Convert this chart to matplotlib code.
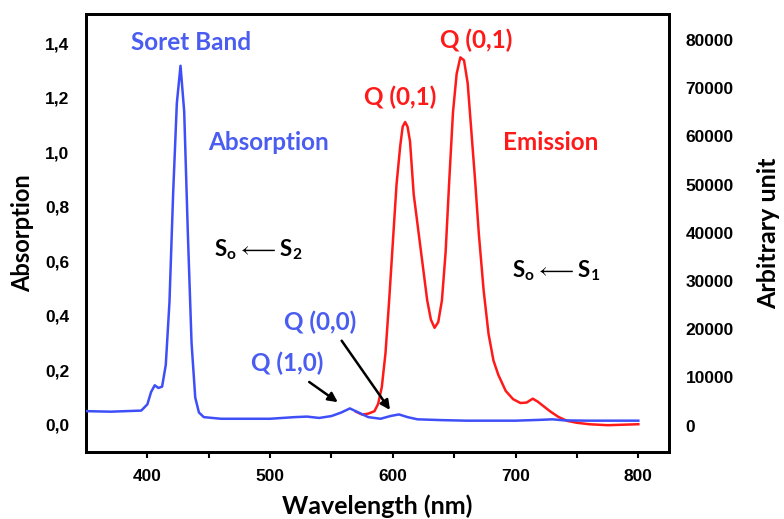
import matplotlib
matplotlib.use("Agg")
import matplotlib.pyplot as plt

# absorption spectrum (left axis)
abs_wl = [350, 370, 395, 400, 403, 406, 409, 412, 415, 418, 421, 424, 427, 430, 433, 436, 439,
          442, 446, 460, 480, 500, 520, 530, 540, 550, 558, 565, 572, 580, 590, 598, 605, 612,
          620, 640, 660, 700, 720, 730, 740, 760, 800]
abs_val = [0.050, 0.048, 0.052, 0.075, 0.12, 0.145, 0.135, 0.14, 0.22, 0.45, 0.85, 1.18, 1.318,
           1.15, 0.70, 0.30, 0.10, 0.045, 0.028, 0.022, 0.022, 0.022, 0.028, 0.030, 0.025, 0.032,
           0.045, 0.060, 0.045, 0.028, 0.022, 0.032, 0.038, 0.028, 0.020, 0.017, 0.015, 0.015,
           0.018, 0.020, 0.016, 0.015, 0.015]

# emission spectrum (right axis)
em_wl = [570, 575, 580, 585, 588, 591, 594, 597, 600, 603, 606, 608, 610, 612, 614, 617, 620,
         624, 628, 631, 634, 637, 640, 643, 646, 649, 652, 655, 658, 661, 664, 667, 670, 674,
         678, 682, 686, 692, 698, 704, 709, 714, 718, 722, 728, 735, 742, 750, 760, 775, 800]
em_val = [2900, 2300, 2500, 3000, 4500, 8000, 15000, 26000, 38000, 50000, 58000, 62000, 63000,
          62000, 59000, 48000, 42000, 34000, 26000, 22000, 20300, 21500, 26000, 36000, 51000,
          65000, 73000, 76400, 75800, 71000, 61000, 51000, 40000, 28000, 19000, 13500, 10500,
          7200, 5500, 4700, 4800, 5600, 5000, 4200, 3000, 1800, 1000, 600, 300, 100, 300]

ticks_left = [0.0, 0.2, 0.4, 0.6, 0.8, 1.0, 1.2, 1.4]
ticks_left_lbl = ["0,0", "0,2", "0,4", "0,6", "0,8", "1,0", "1,2", "1,4"]
ticks_right = [0, 10000, 20000, 30000, 40000, 50000, 60000, 70000, 80000]
ticks_x = [400, 500, 600, 700, 800]

blue = "#3f4ff7"
lblue = "#4a5df0"
red = "#ff1a1a"
tfont = ["Lato", "DejaVu Sans"]

plt.rcParams["mathtext.fontset"] = "custom"
plt.rcParams["mathtext.rm"] = "Lato"
plt.rcParams["mathtext.bf"] = "Lato:bold"

fig = plt.figure(figsize=(7.84, 5.19), dpi=100)
ax = fig.add_axes([0.1097, 0.1291, 0.7436, 0.8439])
ax2 = ax.twinx()

ax.plot(abs_wl, abs_val, color=blue, lw=1.8, zorder=3)
ax2.plot(em_wl, em_val, color=red, lw=1.8)
ax.set_zorder(ax2.get_zorder() + 1)
ax.patch.set_visible(False)

ax.set_xlim(350, 825)
ax.set_ylim(-0.1, 1.508)
ax2.set_ylim(-5460, 85400)

ax.set_xticks(ticks_x)
ax.set_xticks([450, 550, 650, 750], minor=True)
ax.set_yticks(ticks_left)
ax.set_yticklabels(ticks_left_lbl)
ax2.set_yticks(ticks_right)

for a in (ax, ax2):
    for s in a.spines.values():
        s.set_linewidth(2)
    for lbl in a.get_xticklabels() + a.get_yticklabels():
        lbl.set_fontfamily("Liberation Sans")
        lbl.set_fontweight("bold")
        lbl.set_fontsize(12.5)
ax.tick_params(axis="x", which="both", direction="out", length=4, width=1.5, pad=8)
ax.tick_params(axis="y", length=0, pad=12)
ax2.tick_params(axis="y", length=0, pad=12)

ax.set_xlabel("Wavelength (nm)", fontsize=18, fontweight="bold", family=tfont, labelpad=8)
ax.set_ylabel("Absorption", fontsize=17, fontweight="bold", family=tfont, labelpad=8)
ax2.set_ylabel("Arbitrary unit", fontsize=18, fontweight="bold", family=tfont, labelpad=17)

kw = dict(fontsize=17.5, fontweight="bold", family=tfont, ha="center", va="center")
ax.text(436, 1.402, "Soret Band", color=lblue, **kw)
ax.text(499, 1.038, "Absorption", color=lblue, **kw)
ax.text(606, 1.203, "Q (0,1)", color=red, **kw)
ax.text(668, 1.413, "Q (0,1)", color=red, **kw)
ax.text(729, 1.038, "Emission", color=red, **kw)
ax.text(541, 0.376, "Q (0,0)", color=lblue, **kw)
ax.text(514, 0.225, "Q (1,0)", color=lblue, **kw)
kw["fontsize"] = 16
ax.text(490, 0.641, r"$\mathbf{S_o}\longleftarrow\mathbf{S_2}$", color="black", **kw)
ax.text(733, 0.567, r"$\mathbf{S_o}\longleftarrow\mathbf{S_1}$", color="black", **kw)

arr = dict(arrowstyle="-|>", color="black", lw=1.8, mutation_scale=14)
ax.annotate("", xy=(557, 0.077), xytext=(530, 0.163), arrowprops=arr)
ax.annotate("", xy=(599, 0.046), xytext=(557, 0.317), arrowprops=arr)

fig.savefig("out.png", dpi=100)
